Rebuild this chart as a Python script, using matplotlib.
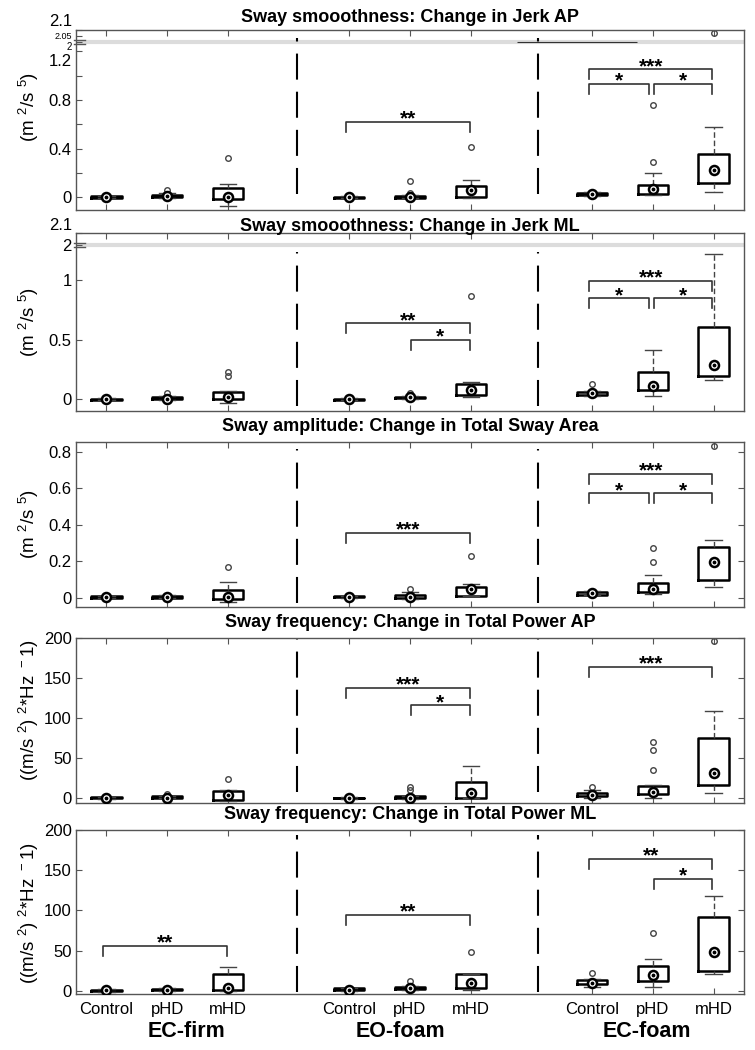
import numpy as np
import matplotlib
matplotlib.use("Agg")
import matplotlib.pyplot as plt
import matplotlib.transforms as mtransforms

plt.rcParams['font.family'] = ['Liberation Sans', 'DejaVu Sans']
plt.rcParams['mathtext.fontset'] = 'custom'
plt.rcParams['mathtext.rm'] = 'Liberation Sans'
plt.rcParams['mathtext.default'] = 'regular'

# --- data ---
groups = ['EC-firm', 'EO-foam', 'EC-foam']
subjects = ['Control', 'pHD', 'mHD']
positions = [1, 2, 3, 5, 6, 7, 9, 10, 11]

titles = ['Sway smooothness: Change in Jerk AP',
          'Sway smooothness: Change in Jerk ML',
          'Sway amplitude: Change in Total Sway Area',
          'Sway frequency: Change in Total Power AP',
          'Sway frequency: Change in Total Power ML']
ylabels = ['(m $^2$/s $^5$)', '(m $^2$/s $^5$)', '(m $^2$/s $^5$)',
           '((m/s $^2$) $^2$*Hz $^-$1)', '((m/s $^2$) $^2$*Hz $^-$1)']

# jerk AP
jap_med = [0.0, 0.008, 0.0, 0.0, 0.003, 0.058, 0.027, 0.066, 0.222]
jap_q1 = [-0.005, 0.0, -0.016, -0.004, -0.004, 0.003, 0.02, 0.022, 0.118]
jap_q3 = [0.005, 0.015, 0.077, 0.004, 0.01, 0.093, 0.035, 0.099, 0.354]
jap_lo = [-0.01, -0.004, -0.07, -0.008, -0.008, -0.006, 0.012, 0.02, 0.044]
jap_hi = [0.01, 0.03, 0.104, 0.008, 0.02, 0.137, 0.04, 0.195, 0.579]
jap_out = [[], [0.058], [0.32], [], [0.134, 0.035], [0.41], [], [0.285, 0.76], [2.075]]
jap_sig = [(3, 5, 0.62, '**'), (6, 8, 1.054, '***'), (6, 7, 0.935, '*'), (7, 8, 0.935, '*')]

# jerk ML
jml_med = [0.0, 0.0, 0.014, 0.0, 0.014, 0.076, 0.048, 0.109, 0.29]
jml_q1 = [-0.004, -0.003, -0.003, -0.004, 0.005, 0.034, 0.035, 0.076, 0.196]
jml_q3 = [0.004, 0.015, 0.061, 0.004, 0.02, 0.126, 0.06, 0.224, 0.608]
jml_lo = [-0.008, -0.006, -0.03, -0.008, 0.0, 0.02, 0.028, 0.025, 0.16]
jml_hi = [0.008, 0.025, 0.07, 0.008, 0.03, 0.145, 0.07, 0.41, 1.216]
jml_out = [[], [0.048], [0.23, 0.19], [0.012], [0.053], [0.868], [0.126], [], []]
jml_sig = [(3, 5, 0.636, '**'), (4, 5, 0.496, '*'), (6, 8, 0.994, '***'),
           (6, 7, 0.846, '*'), (7, 8, 0.846, '*')]

# total sway area
area_med = [0.004, 0.007, 0.007, 0.007, 0.007, 0.049, 0.026, 0.049, 0.199]
area_q1 = [0.0, 0.002, -0.005, 0.003, 0.0, 0.013, 0.018, 0.031, 0.099]
area_q3 = [0.008, 0.01, 0.044, 0.01, 0.015, 0.062, 0.032, 0.084, 0.281]
area_lo = [-0.002, 0.0, -0.024, 0.0, -0.004, 0.008, 0.014, 0.02, 0.059]
area_hi = [0.01, 0.015, 0.086, 0.012, 0.035, 0.078, 0.04, 0.128, 0.318]
area_out = [[], [], [0.168], [0.0], [0.049], [0.228], [], [0.272, 0.199], [0.833]]
area_sig = [(3, 5, 0.358, '***'), (6, 8, 0.679, '***'), (6, 7, 0.574, '*'), (7, 8, 0.574, '*')]

# total power AP
pap_med = [0.0, 0.0, 3.75, 0.0, 0.0, 5.8, 3.75, 7.9, 30.8]
pap_q1 = [-0.5, 0.5, -2.5, -0.5, -0.5, 0.4, 2.0, 4.6, 16.25]
pap_q3 = [1.0, 2.5, 8.75, 0.5, 2.0, 19.6, 6.0, 15.4, 75.4]
pap_lo = [-1.0, 0.0, -3.5, -1.0, -1.0, 0.0, 0.5, 0.0, 5.8]
pap_hi = [1.5, 3.0, 10.4, 1.0, 3.0, 40.0, 10.0, 16.5, 109.0]
pap_out = [[1.5], [5.0], [24.0], [], [14.0, 10.0], [], [14.0], [35.0, 60.0, 69.6], [196.6]]
pap_sig = [(3, 5, 138, '***'), (4, 5, 116, '*'), (6, 8, 164, '***')]

# total power ML
pml_med = [0.4, 1.2, 3.3, 1.0, 3.3, 10.3, 10.3, 19.5, 48.8]
pml_q1 = [-0.5, 0.5, 0.4, 0.5, 2.0, 3.3, 8.3, 11.6, 25.2]
pml_q3 = [1.5, 2.5, 21.0, 3.0, 5.0, 20.7, 12.8, 31.4, 92.3]
pml_lo = [-1.0, 0.0, 0.0, 0.0, 1.0, 0.4, 4.5, 4.5, 21.0]
pml_hi = [2.0, 3.5, 29.8, 4.0, 6.0, 20.7, 14.5, 39.3, 118.0]
pml_out = [[], [], [], [], [12.4], [48.0], [22.0], [71.7], []]
pml_sig = [(0, 2, 55.9, '**'), (3, 5, 94.4, '**'), (6, 8, 164, '**'), (7, 8, 139, '*')]

panels = [
    (jap_med, jap_q1, jap_q3, jap_lo, jap_hi, jap_out, jap_sig),
    (jml_med, jml_q1, jml_q3, jml_lo, jml_hi, jml_out, jml_sig),
    (area_med, area_q1, area_q3, area_lo, area_hi, area_out, area_sig),
    (pap_med, pap_q1, pap_q3, pap_lo, pap_hi, pap_out, pap_sig),
    (pml_med, pml_q1, pml_q3, pml_lo, pml_hi, pml_out, pml_sig),
]

yticks = [[0, 0.2, 0.4, 0.6, 0.8, 1.0, 1.2, 2.0, 2.05, 2.1],
          [0, 0.5, 1, 2.0, 2.1],
          [0, 0.2, 0.4, 0.6, 0.8],
          [0, 50, 100, 150, 200],
          [0, 50, 100, 150, 200]]
yticklabels = [['0', '', '0.4', '', '0.8', '', '', '', '', ''],
               ['0', '0.5', '1', '2', '2.1'],
               ['0', '0.2', '0.4', '0.6', '0.8'],
               ['0', '50', '100', '150', '200'],
               ['0', '50', '100', '150', '200']]
# crowded labels of the top panel near its axis break: (value, text, size, shift in px)
jap_break_labels = [(1.2, '1.2', 12, -10), (2.0, '2', 7, -5), (2.05, '2.05', 6.5, 0), (2.1, '2.1', 12, 9)]
ylims = [(-0.107, 2.1), (-0.1, 2.1), (-0.05, 0.855), (-6.25, 200), (-4, 200)]
breaks = [1.276, 1.294, None, None, None]   # broken axis: jump from break to 2.0
sep_x = [4.14, 8.11]

# layout (pixels of a 755x1050 figure)
W, H = 755, 1050
ax_left, ax_right = 76, 744
ax_tb = [(30, 210), (233, 411), (442, 607), (638, 803), (830, 994)]
title_pad = [6, 1.7, 8, 8, 8]
ylab_y = [0.57, 0.5, 0.5, 0.56, 0.49]
sep_span = [(0.09, 0.955), (0.03, 0.895), (0.024, 0.96), (0.067, 1.0), (0.012, 0.97)]
left_off = [-0.05, 0.01, 0.0]
right_off = [0.0, -0.07, -0.02]
group_label_x = [2.32, 5.84, 9.9]


def make_break(b, lo2, g=1e-3):
    gap = lo2 - b

    def fwd(y):
        y = np.asarray(y, float)
        return np.where(y <= b, y, np.where(y >= lo2, y - gap + g, b + (y - b) / gap * g))

    def inv(z):
        z = np.asarray(z, float)
        return np.where(z <= b, z, np.where(z >= b + g, z + gap - g, b + (z - b) / g * gap))
    return fwd, inv


fig = plt.figure(figsize=(W / 100, H / 100), dpi=100)
axes = []
for k, (top, bot) in enumerate(ax_tb):
    ax = fig.add_axes([ax_left / W, 1 - bot / H, (ax_right - ax_left) / W, (bot - top) / H])
    axes.append(ax)
    med, q1, q3, lo, hi, out, sig = panels[k]

    if breaks[k] is not None:
        fwd, inv = make_break(breaks[k], 2.0)
        ax.set_yscale('function', functions=(fwd, inv))

    stats = [dict(med=med[i], q1=q1[i], q3=q3[i], whislo=lo[i], whishi=hi[i], fliers=out[i])
             for i in range(len(positions))]
    ax.bxp(stats, positions=positions, widths=0.5, capwidths=0.27, manage_ticks=False,
           boxprops=dict(color='black', lw=1.8),
           whiskerprops=dict(color='#444444', lw=1, ls=(0, (4, 2))),
           capprops=dict(color='#444444', lw=1),
           medianprops=dict(lw=0),
           flierprops=dict(marker='o', ms=4, mfc='none', mec='#444444', mew=1))
    ax.plot(positions, med, 'o', ms=6.5, mfc='white', mec='black', mew=1.8, zorder=5)
    ax.plot(positions, med, '.', ms=3.5, color='black', zorder=6)

    ax.set_xlim(0.5, 11.5)
    ax.set_ylim(*ylims[k])
    ax.set_xticks(positions)
    ax.set_yticks(yticks[k])
    ax.set_yticklabels(yticklabels[k])
    ax.tick_params(direction='in', length=4, top=True, right=(breaks[k] is None),
                   colors='#555555', labelcolor='black', labelsize=12, pad=3)
    if k < 4:
        ax.tick_params(labelbottom=False)
    else:
        ax.set_xticklabels(subjects * 3)
        ax.tick_params(axis='x', pad=6)
    for s in ax.spines.values():
        s.set_color('#555555')
        s.set_linewidth(1.0)

    # separators between conditions
    for xs in sep_x:
        ax.axvline(xs, ymin=sep_span[k][0], ymax=sep_span[k][1], color='black', lw=1.5,
                   ls=(0, (12.5, 5.8)))

    # significance brackets
    for i, j, y, lab in sig:
        x1 = positions[i] + left_off[i % 3]
        x2 = positions[j] + right_off[j % 3]
        yd = ax.transData.transform((0, y))[1]
        yl = ax.transData.inverted().transform((0, yd - 10))[1]
        ax.plot([x1, x1, x2, x2], [yl, y, y, yl], color='#333333', lw=1.2)
        ax.annotate(lab, ((x1 + x2) / 2, y), xytext=(0, -2), textcoords='offset points',
                    ha='center', va='baseline', fontsize=15, fontweight='bold')

    # broken-axis decoration
    if breaks[k] is not None:
        yb = (breaks[k] + 2.0) / 2
        ax.axhline(yb, color='#dcdcdc', lw=3, zorder=0.5)
        bt = mtransforms.blended_transform_factory(ax.transAxes, ax.transData)
        for dy in (-2, 2):
            tr = mtransforms.offset_copy(bt, fig=fig, y=dy, units='dots')
            ax.plot([-0.003, 0.0135], [yb, yb], color='#555555', lw=1, transform=tr, clip_on=False)
        if k == 0:
            ax.hlines(yb, 7.76, 9.73, color='#333333', lw=0.8)
            for val, txt, fs, dy in jap_break_labels:
                ax.annotate(txt, (0, val), xycoords=ax.get_yaxis_transform(),
                            xytext=(-4, dy), textcoords='offset pixels',
                            ha='right', va='center', fontsize=fs)
        else:
            ax.get_yticklabels()[4].set_verticalalignment('bottom')

    ax.set_title(titles[k], fontsize=13, fontweight='bold', y=1.0, pad=title_pad[k])
    ax.set_ylabel(ylabels[k], fontsize=13.5)
    ax.yaxis.set_label_coords(-0.052, ylab_y[k])

# condition labels under the bottom panel
ax = axes[-1]
bt = mtransforms.blended_transform_factory(ax.transData, ax.transAxes)
for gx, name in zip(group_label_x, groups):
    ax.text(gx, -0.226, name, transform=bt, ha='center', va='center',
            fontsize=15.5, fontweight='bold')

fig.savefig('out.png', dpi=100)
